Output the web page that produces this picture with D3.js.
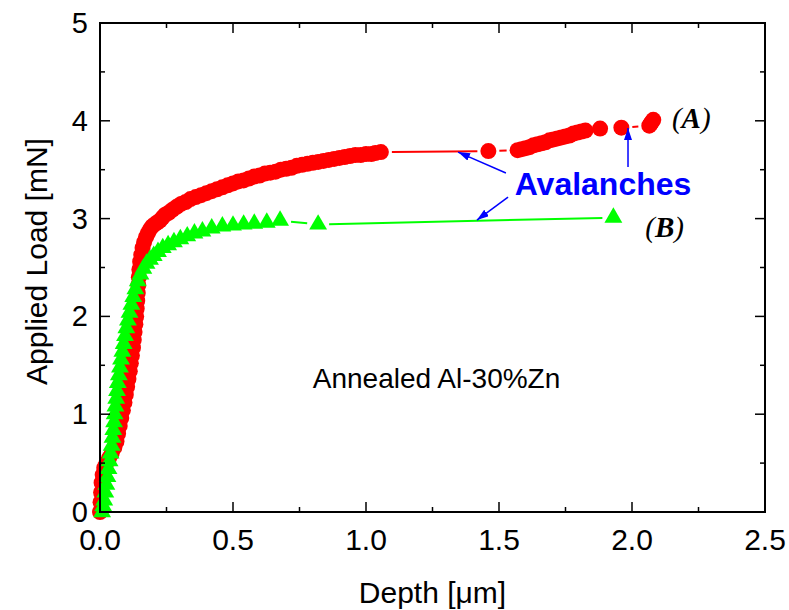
<!DOCTYPE html>
<html>
<head>
<meta charset="utf-8">
<script src="https://cdn.jsdelivr.net/npm/d3@7.9.0/dist/d3.min.js"></script>
<style>
  html, body { margin: 0; padding: 0; background: #fff; }
  svg { display: block; }
  text { font-family: "Liberation Sans", Arial, sans-serif; fill: #000; }
</style>
</head>
<body>
<svg id="chart" width="789" height="610"></svg>
<script>
// curve (A): depth [um], load [mN]
const depthA = [0.000, 0.002, 0.004, 0.006, 0.010, 0.016, 0.024, 0.034, 0.044, 0.054,
  0.062, 0.068, 0.074, 0.080, 0.086, 0.092, 0.097, 0.102, 0.107, 0.112,
  0.116, 0.120, 0.124, 0.127, 0.130, 0.133, 0.136, 0.138, 0.140, 0.142,
  0.144, 0.146, 0.148, 0.151, 0.155, 0.160, 0.166, 0.173, 0.180, 0.188,
  0.196, 0.205, 0.215, 0.225, 0.235, 0.245, 0.258, 0.272, 0.288, 0.305,
  0.322, 0.340, 0.360, 0.380, 0.400, 0.420, 0.440, 0.460, 0.480, 0.500,
  0.520, 0.540, 0.560, 0.580, 0.600, 0.620, 0.640, 0.660, 0.680, 0.700,
  0.720, 0.740, 0.760, 0.780, 0.800, 0.820, 0.840, 0.860, 0.880, 0.900,
  0.920, 0.940, 0.960, 0.980, 1.000, 1.020, 1.035, 1.056, 1.460, 1.570,
  1.585, 1.600, 1.615, 1.630, 1.645, 1.660, 1.675, 1.690, 1.705, 1.720,
  1.735, 1.750, 1.765, 1.780, 1.795, 1.810, 1.825, 1.880, 1.960, 2.065,
  2.070, 2.075, 2.080];
const loadA = [0.00, 0.10, 0.20, 0.30, 0.38, 0.45, 0.50, 0.55, 0.60, 0.66,
  0.72, 0.80, 0.88, 0.96, 1.04, 1.12, 1.20, 1.28, 1.36, 1.44,
  1.52, 1.60, 1.68, 1.76, 1.84, 1.92, 2.00, 2.08, 2.16, 2.24,
  2.32, 2.40, 2.48, 2.56, 2.63, 2.70, 2.76, 2.81, 2.85, 2.89,
  2.92, 2.94, 2.96, 2.98, 3.01, 3.04, 3.06, 3.09, 3.12, 3.15,
  3.17, 3.20, 3.22, 3.24, 3.26, 3.28, 3.30, 3.32, 3.34, 3.36,
  3.38, 3.39, 3.41, 3.43, 3.44, 3.46, 3.47, 3.48, 3.50, 3.51,
  3.52, 3.54, 3.55, 3.56, 3.57, 3.58, 3.59, 3.60, 3.61, 3.62,
  3.63, 3.64, 3.65, 3.65, 3.66, 3.66, 3.67, 3.68, 3.69, 3.70,
  3.71, 3.72, 3.73, 3.75, 3.76, 3.77, 3.78, 3.80, 3.81, 3.82,
  3.83, 3.84, 3.85, 3.87, 3.88, 3.89, 3.90, 3.92, 3.93, 3.95,
  3.97, 3.99, 4.01];

// curve (B)
const depthB = [0.008, 0.012, 0.016, 0.020, 0.024, 0.028, 0.032, 0.036, 0.040, 0.044,
  0.047, 0.050, 0.053, 0.055, 0.058, 0.061, 0.064, 0.067, 0.071, 0.075,
  0.079, 0.084, 0.089, 0.094, 0.099, 0.105, 0.111, 0.118, 0.125, 0.133,
  0.142, 0.152, 0.163, 0.175, 0.188, 0.202, 0.218, 0.236, 0.256, 0.278,
  0.302, 0.328, 0.355, 0.385, 0.420, 0.460, 0.500, 0.540, 0.580, 0.627,
  0.677, 0.820, 1.930];
const loadB = [0.00, 0.06, 0.12, 0.20, 0.28, 0.36, 0.44, 0.52, 0.60, 0.68,
  0.76, 0.84, 0.92, 1.00, 1.08, 1.16, 1.24, 1.32, 1.40, 1.48,
  1.56, 1.64, 1.72, 1.80, 1.88, 1.96, 2.04, 2.12, 2.20, 2.28,
  2.36, 2.43, 2.49, 2.54, 2.58, 2.62, 2.66, 2.70, 2.73, 2.76,
  2.79, 2.82, 2.85, 2.87, 2.90, 2.92, 2.93, 2.94, 2.95, 2.96,
  2.98, 2.94, 3.01];

const xTicks = [0, 0.5, 1.0, 1.5, 2.0, 2.5];
const yTicks = [0, 1, 2, 3, 4, 5];

// annotation anchors in data units
const arrowFrom = [[1.526, 3.466], [1.534, 3.22], [1.985, 3.527]];
const arrowTo = [[1.346, 3.68], [1.417, 2.985], [1.985, 3.926]];

const W = 789, H = 610;
const margin = { top: 23, right: 24, bottom: 98, left: 100 };

const svg = d3.select('#chart');

const x = d3.scaleLinear().domain([0, 2.5]).range([margin.left, W - margin.right]);
const y = d3.scaleLinear().domain([0, 5]).range([H - margin.bottom, margin.top]);

const defs = svg.append('defs');
defs.append('marker')
  .attr('id', 'arrow')
  .attr('viewBox', '0 0 12 8')
  .attr('refX', 12).attr('refY', 4)
  .attr('markerWidth', 12).attr('markerHeight', 8)
  .attr('markerUnits', 'userSpaceOnUse')
  .attr('orient', 'auto')
  .append('path')
  .attr('d', 'M0,0 L12,4 L0,8 Z')
  .attr('fill', '#0000ff');

// connecting lines, with gaps around symbols like Origin draws them
function drawGappedLine(xs, ys, color, gap) {
  let g = svg.append('g');
  for (let i = 0; i < xs.length - 1; i++) {
    let x1 = x(xs[i]), y1 = y(ys[i]);
    let x2 = x(xs[i + 1]), y2 = y(ys[i + 1]);
    let d = Math.hypot(x2 - x1, y2 - y1);
    if (d <= 2 * gap + 1) continue;
    let ux = (x2 - x1) / d, uy = (y2 - y1) / d;
    g.append('line')
      .attr('x1', x1 + ux * gap).attr('y1', y1 + uy * gap)
      .attr('x2', x2 - ux * gap).attr('y2', y2 - uy * gap)
      .attr('stroke', color)
      .attr('stroke-width', 2);
  }
}

drawGappedLine(depthA, loadA, '#ff0000', 11);
drawGappedLine(depthB, loadB, '#00ff00', 11);

svg.append('g')
  .selectAll('path')
  .data(d3.range(depthA.length))
  .join('path')
  .attr('transform', (i) => `translate(${x(depthA[i])},${y(loadA[i])})`)
  .attr('d', d3.symbol(d3.symbolCircle, Math.PI * 8 * 8))
  .attr('fill', '#ff0000');

svg.append('g')
  .selectAll('path')
  .data(d3.range(depthB.length))
  .join('path')
  .attr('transform', (i) => `translate(${x(depthB[i])},${y(loadB[i])})`)
  .attr('d', d3.symbol(d3.symbolTriangle, 138))
  .attr('fill', '#00ff00');

// frame and ticks (inside, mirrored)
const minorX = d3.range(0, 2.51, 0.25);
const minorY = d3.range(0, 5.01, 0.5);
const tickG = svg.append('g').attr('stroke', '#000').attr('stroke-width', 1.5);
minorX.forEach((v, i) => {
  let len = i % 2 === 0 ? 10 : 5;
  tickG.append('line').attr('x1', x(v)).attr('x2', x(v)).attr('y1', y(0)).attr('y2', y(0) - len);
  tickG.append('line').attr('x1', x(v)).attr('x2', x(v)).attr('y1', y(5)).attr('y2', y(5) + len);
});
minorY.forEach((v, i) => {
  let len = i % 2 === 0 ? 10 : 5;
  tickG.append('line').attr('y1', y(v)).attr('y2', y(v)).attr('x1', x(0)).attr('x2', x(0) + len);
  tickG.append('line').attr('y1', y(v)).attr('y2', y(v)).attr('x1', x(2.5)).attr('x2', x(2.5) - len);
});

svg.append('rect')
  .attr('x', x(0)).attr('y', y(5))
  .attr('width', x(2.5) - x(0)).attr('height', y(0) - y(5))
  .attr('fill', 'none').attr('stroke', '#000').attr('stroke-width', 2);

// tick labels
svg.append('g')
  .selectAll('text')
  .data(xTicks)
  .join('text')
  .attr('x', (d) => x(d))
  .attr('y', y(0) + 38)
  .attr('text-anchor', 'middle')
  .attr('font-size', 30)
  .text((d) => d.toFixed(1));

svg.append('g')
  .selectAll('text')
  .data(yTicks)
  .join('text')
  .attr('x', x(0) - 12)
  .attr('y', (d) => y(d) + 10)
  .attr('text-anchor', 'end')
  .attr('font-size', 29)
  .text((d) => d);

// axis titles
svg.append('text')
  .attr('x', (x(0) + x(2.5)) / 2)
  .attr('y', 603)
  .attr('text-anchor', 'middle')
  .attr('font-size', 30)
  .text('Depth [μm]');

svg.append('text')
  .attr('transform', `translate(47,${(y(0) + y(5)) / 2 - 6}) rotate(-90)`)
  .attr('text-anchor', 'middle')
  .attr('font-size', 30)
  .text('Applied Load [mN]');

// annotations
svg.append('text')
  .attr('x', x(0.80)).attr('y', y(1.27))
  .attr('font-size', 28)
  .text('Annealed Al-30%Zn');

svg.append('text')
  .attr('x', x(1.891)).attr('y', y(3.24))
  .attr('text-anchor', 'middle')
  .attr('font-size', 32)
  .attr('font-weight', 'bold')
  .style('fill', '#0000ff')
  .text('Avalanches');

arrowFrom.forEach((p, i) => {
  svg.append('line')
    .attr('x1', x(p[0])).attr('y1', y(p[1]))
    .attr('x2', x(arrowTo[i][0])).attr('y2', y(arrowTo[i][1]))
    .attr('stroke', '#0000ff')
    .attr('stroke-width', 1.5)
    .attr('marker-end', 'url(#arrow)');
});

function seriesLabel(px, py, letter) {
  let t = svg.append('text')
    .attr('x', x(px)).attr('y', y(py))
    .attr('font-size', 29)
    .style('font-family', '"Liberation Serif", "Times New Roman", serif')
    .style('font-style', 'italic');
  t.append('tspan').text('(');
  t.append('tspan').attr('font-weight', 'bold').text(letter);
  t.append('tspan').text(')');
}
seriesLabel(2.15, 3.93, 'A');
seriesLabel(2.05, 2.81, 'B');
</script>
</body>
</html>
